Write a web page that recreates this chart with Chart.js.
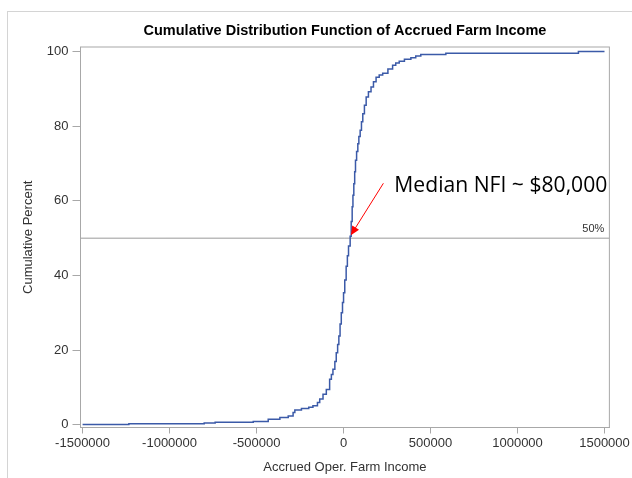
<!DOCTYPE html>
<html>
<head>
<meta charset="utf-8">
<script src="https://cdn.jsdelivr.net/npm/chart.js@4"></script>
<style>
html,body{margin:0;padding:0;background:#fff;overflow:hidden;}
#frame{position:absolute;left:7px;top:11px;width:700px;height:600px;border-left:1px solid #d4d4d4;border-top:1px solid #d4d4d4;}
#wrap{position:absolute;left:0;top:0;width:632px;height:478px;}
</style>
</head>
<body>
<div id="frame"></div>
<div id="wrap"><canvas id="cdf-chart" width="632" height="478"></canvas></div>
<script>
// accrued operating farm income ($) and cumulative percent at each step
const income = [
  -1500000, -1234000, -801000, -738000, -519000, -433000, -366000, -318000,
  -290000, -280000, -242000, -200000, -176000, -150000, -137000, -118000,
  -99000, -80000, -70000, -61000, -50000, -42000, -34000, -27000,
  -20000, -13000, -6000, 0, 7000, 15000, 22000, 28600,
  38000, 44000, 49600, 54000, 59000, 64000, 68700, 75000,
  82000, 88000, 95500, 103000, 110600, 120000, 130000, 143000,
  158000, 172000, 187000, 205000, 225000, 255000, 282000, 300000,
  320000, 350000, 387000, 415000, 444000, 588000, 1350000, 1500000
];
const cumPercent = [
  0.1, 0.3, 0.5, 0.7, 0.9, 1.5, 2.0, 2.4,
  3.3, 4.0, 4.4, 4.7, 5.1, 6.0, 6.9, 8.2,
  9.5, 12.2, 13.5, 14.9, 17, 19.3, 21.5, 23.8,
  27, 30, 32.8, 35.4, 38.8, 42.5, 45.3, 47.9,
  50.5, 54.5, 58.4, 61.5, 64.6, 67.8, 70.9, 73.2,
  75.3, 77.2, 78.9, 81.2, 83.3, 85.6, 87.8, 89.2,
  90.5, 91.9, 93.1, 93.7, 94.2, 95.3, 96.3, 96.9,
  97.4, 97.9, 98.3, 98.8, 99.2, 99.5, 100, 100
];
const xTicks = [-1500000, -1000000, -500000, 0, 500000, 1000000, 1500000];
const yTicks = [0, 20, 40, 60, 80, 100];
const refPercent = 50;
const refLineX = [-1512000, 1528000];
const arrowFrom = {x: 229000, y: 64.7};
const arrowTo = {x: 42000, y: 50.8};
const notePos = {x: 292000, y: 62.5};
const noteText = "Median NFI ~ $80,000";
const titleText = "Cumulative Distribution Function of Accrued Farm Income";

const FONT = "'Liberation Sans', Arial, sans-serif";
const GRAY = "#a8a8a8";

// frame, title, 50% label, arrow + note
const extras = {
  id: "extras",
  afterDatasetsDraw(chart){
    const {ctx, chartArea: a, scales: {x, y}} = chart;
    ctx.save();
    ctx.strokeStyle = GRAY;
    ctx.lineWidth = 1;
    ctx.strokeRect(a.left, a.top, a.right - a.left, a.bottom - a.top);

    ctx.fillStyle = "#000";
    ctx.font = "bold 14.5px " + FONT;
    ctx.textAlign = "center";
    ctx.textBaseline = "middle";
    ctx.fillText(titleText, (a.left + a.right) / 2, 30.5);

    ctx.fillStyle = "#333";
    ctx.font = "11px " + FONT;
    ctx.textAlign = "right";
    ctx.textBaseline = "alphabetic";
    ctx.fillText(refPercent + "%", a.right - 5, y.getPixelForValue(refPercent) - 6);

    // arrow
    const x1 = x.getPixelForValue(arrowFrom.x), y1 = y.getPixelForValue(arrowFrom.y);
    const x2 = x.getPixelForValue(arrowTo.x), y2 = y.getPixelForValue(arrowTo.y);
    const ang = Math.atan2(y2 - y1, x2 - x1);
    ctx.strokeStyle = "#ff0000";
    ctx.fillStyle = "#ff0000";
    ctx.beginPath();
    ctx.moveTo(x1, y1);
    ctx.lineTo(x2 - 6 * Math.cos(ang), y2 - 6 * Math.sin(ang));
    ctx.stroke();
    ctx.beginPath();
    ctx.moveTo(x2, y2);
    ctx.lineTo(x2 - 9 * Math.cos(ang) + 4 * Math.sin(ang), y2 - 9 * Math.sin(ang) - 4 * Math.cos(ang));
    ctx.lineTo(x2 - 9 * Math.cos(ang) - 4 * Math.sin(ang), y2 - 9 * Math.sin(ang) + 4 * Math.cos(ang));
    ctx.closePath();
    ctx.fill();

    // note text, squeezed to the width it has in the picture
    ctx.fillStyle = "#000";
    ctx.font = "22px 'Open Sans', sans-serif";
    ctx.textAlign = "left";
    const tx = x.getPixelForValue(notePos.x), ty = y.getPixelForValue(notePos.y);
    const w = ctx.measureText(noteText).width;
    const k = Math.min(1, 213 / w);
    ctx.translate(tx, ty);
    ctx.scale(k, 1);
    ctx.fillText(noteText, 0, 0);
    ctx.restore();
  }
};

new Chart(document.getElementById("cdf-chart"), {
  type: "line",
  data: {
    datasets: [
      {
        data: income.map((v, i) => ({x: v, y: cumPercent[i]})),
        borderColor: "#3b5aa8",
        borderWidth: 1.5,
        pointRadius: 0,
        stepped: true
      },
      {
        data: refLineX.map(v => ({x: v, y: refPercent})),
        borderColor: "#9a9a9a",
        borderWidth: 1,
        pointRadius: 0
      }
    ]
  },
  options: {
    responsive: false,
    animation: false,
    layout: {padding: {top: 47, right: 20.5, left: 0, bottom: 0}},
    plugins: {legend: {display: false}, tooltip: {enabled: false}},
    scales: {
      x: {
        type: "linear",
        min: -1512000,
        max: 1528000,
        afterBuildTicks: s => { s.ticks = xTicks.map(v => ({value: v})); },
        afterFit: s => { s.height = 50.5; },
        ticks: {callback: v => String(v), maxRotation: 0, autoSkip: false, color: "#333", font: {family: FONT, size: 13}, padding: 2},
        grid: {drawOnChartArea: false, drawTicks: true, tickLength: 6, color: GRAY},
        border: {color: GRAY},
        title: {display: true, text: "Accrued Oper. Farm Income", color: "#333", font: {family: FONT, size: 13}, padding: {top: 0, bottom: 2.5}}
      },
      y: {
        min: -0.7,
        max: 101.2,
        afterBuildTicks: s => { s.ticks = yTicks.map(v => ({value: v})); },
        afterFit: s => { s.width = 80.5; },
        ticks: {color: "#333", font: {family: FONT, size: 13}, padding: 4},
        grid: {drawOnChartArea: false, drawTicks: true, tickLength: 8, color: GRAY},
        border: {color: GRAY},
        title: {display: true, text: "Cumulative Percent", color: "#333", font: {family: FONT, size: 13}, padding: {top: 21, bottom: 0}}
      }
    }
  },
  plugins: [extras]
});
</script>
</body>
</html>
